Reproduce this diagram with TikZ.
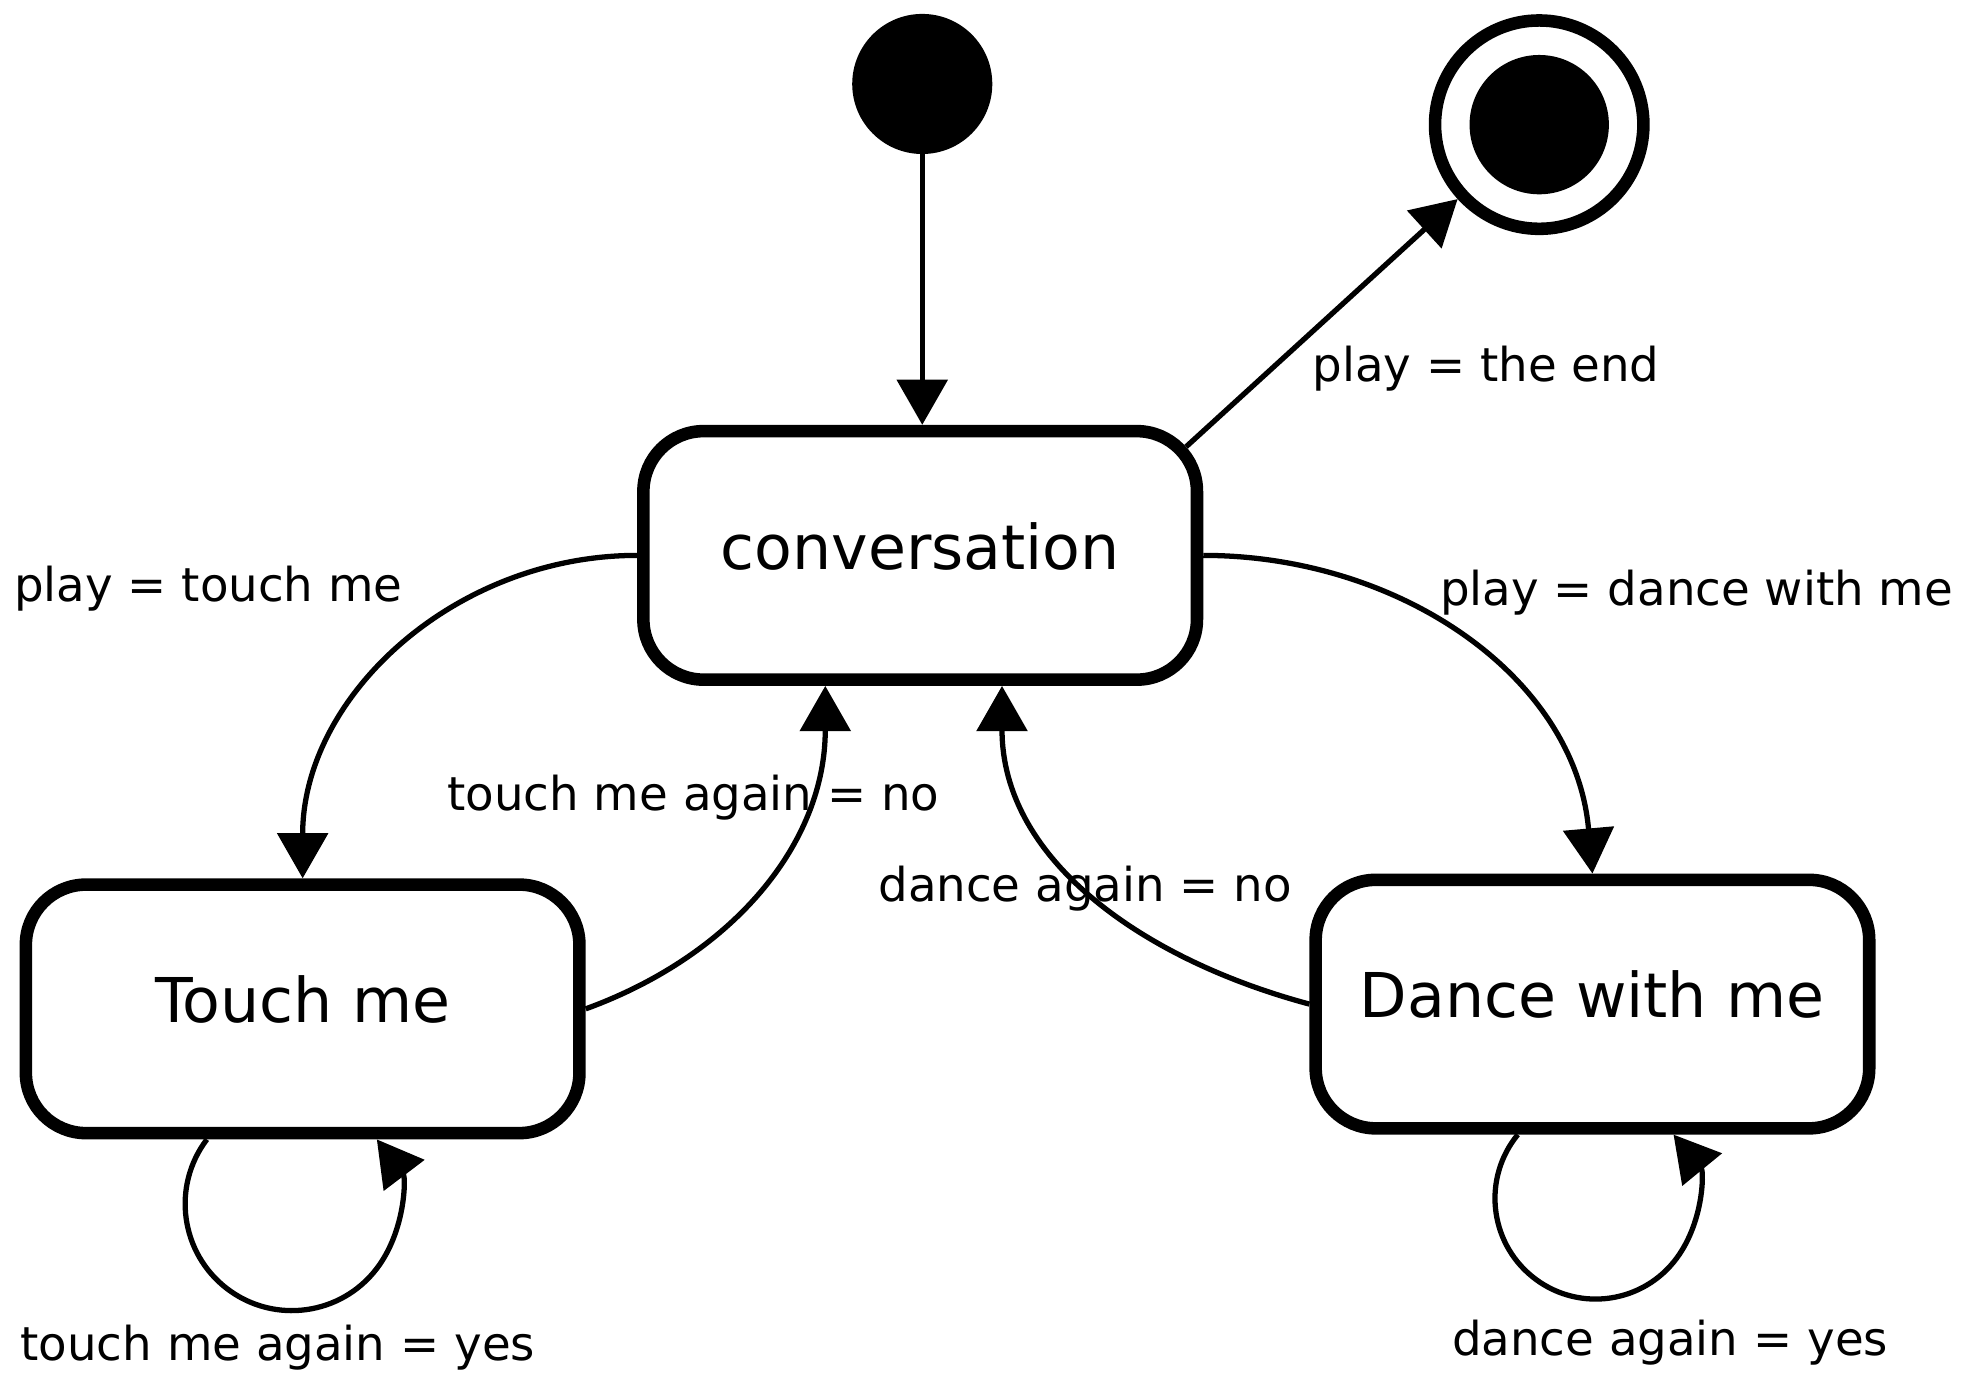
\documentclass[tikz,border=0pt]{standalone}
\usepackage{fontspec}
\setmainfont{DejaVu Sans}
\usetikzlibrary{arrows.meta}
\newcommand\stboxfont{\fontsize{24.6pt}{29pt}\selectfont}
\newcommand\stlblfont{\fontsize{18.6pt}{22pt}\selectfont}
\tikzset{
  statebox/.style={draw, line width=5pt, rounded corners=24pt,
    minimum width=220.5pt, minimum height=99pt, inner sep=0pt,
    text height=18pt, text depth=7pt, font=\stboxfont},
  arr/.style={line width=2.1pt, -{Triangle[length=18pt,width=20pt]}},
  lbl/.style={anchor=base, inner sep=0pt, font=\stlblfont},
  initst/.style={circle, fill=black, minimum size=55.8pt, inner sep=0pt, outer sep=0pt},
  finalring/.style={circle, draw, line width=5pt, minimum size=83pt, inner sep=0pt},
  finaldot/.style={circle, fill=black, minimum size=55.5pt, inner sep=0pt, outer sep=0pt},
}
\begin{document}
\begin{tikzpicture}[x=0.5pt,y=0.5pt]
\useasboundingbox (0,0) rectangle (1567,1105);

% states
\node[initst] (init) at (734.7,1038.1) {};
\node[finalring] (final) at (1226.2,1005.7) {};
\node[finaldot] (finaldot) at (final.center) {};
\node[statebox] (conv) at (733.05,662.55) {conversation};
\node[statebox] (touch) at (241.1,301.3) {Touch me};
\node[statebox] (dance) at (1268.6,305.1) {Dance with me};

% transitions
\draw[arr] (init) -- (init |- conv.north);
\draw[arr] ([shift={(-6.8pt,-8.7pt)}]conv.north east) -- (final);
\draw[arr] (conv.west) to[out=180,in=90] (touch.north);
\draw[arr] (touch.east) to[out=20,in=-90] ([xshift=-37.8pt]conv.south);
\draw[arr] (conv.east) to[out=0,in=95] (dance.north);
\draw[arr] (dance.west) to[out=165,in=-90] ([xshift=32.6pt]conv.south);
\draw[arr] ([xshift=-38.15pt]touch.south) arc[start angle=142.8, end angle=397.2, radius=42.5pt];
\draw[arr] ([xshift=-29.75pt]dance.south) arc[start angle=140.7, end angle=399.3, radius=40.1pt];

% labels
\node[lbl] (lpe) at (1183.8,801) {play = the end};
\node[lbl] (lpt) at (166,625.7) {play = touch me};
\node[lbl] (lpd) at (1351.5,623) {play = dance with me};
\node[lbl] (ltan) at (552.4,459.7) {touch me again = no};
\node[lbl] (ldan) at (864.5,386.7) {dance again = no};
\node[lbl] (ltay) at (221.25,21.4) {touch me again = yes};
\node[lbl] (lday) at (1330.4,25.5) {dance again = yes};
\end{tikzpicture}
\end{document}
